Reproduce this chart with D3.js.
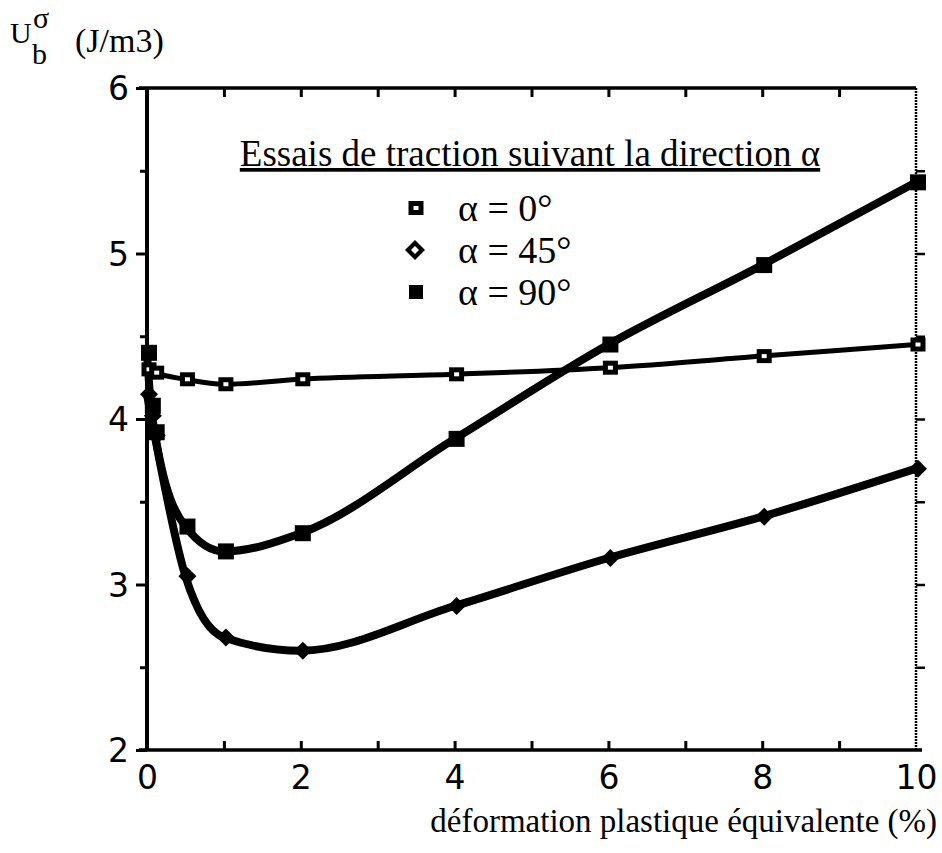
<!DOCTYPE html>
<html>
<head>
<meta charset="utf-8">
<script src="https://cdn.jsdelivr.net/npm/d3@7"></script>
<style>
  body { margin: 0; background: #fff; }
  svg { display: block; }
</style>
</head>
<body>
<div id="chart"></div>
<script>
// Data
var strain0 = [0, 0.1, 0.5, 1, 2, 4, 6, 8, 10]
var u0 = [4.30, 4.28, 4.24, 4.21, 4.24, 4.27, 4.31, 4.38, 4.45]

var strain45 = [0, 0.05, 0.1, 0.5, 1, 2, 4, 6, 8, 10]
var u45 = [4.15, 4.02, 3.90, 3.05, 2.68, 2.60, 2.87, 3.16, 3.41, 3.70]

var strain90 = [0, 0.05, 0.1, 0.5, 1, 2, 4, 6, 8, 10]
var u90 = [4.40, 4.08, 3.92, 3.35, 3.20, 3.31, 3.88, 4.45, 4.93, 5.43]

var xTicks = [0, 2, 4, 6, 8, 10]
var yTicks = [2, 3, 4, 5, 6]
var legendLabels = ['α = 0°', 'α = 45°', 'α = 90°']

// Set up margin/height/width
var margin = { top: 88, left: 147, right: 26, bottom: 103 }
var width = 942 - margin.left - margin.right
var height = 853 - margin.top - margin.bottom

var svg = d3
  .select('#chart')
  .append('svg')
  .attr('width', 942)
  .attr('height', 853)
  .append('g')
  .attr('transform', 'translate(' + margin.left + ',' + margin.top + ')')

var xPositionScale = d3.scaleLinear().domain([0, 10]).range([0, width])
var yPositionScale = d3.scaleLinear().domain([2, 6]).range([height, 0])

var sansFont = 'DejaVu Sans, Verdana, sans-serif'
var serifFont = 'Liberation Serif, Times New Roman, serif'

// Axes: left with outside ticks, bottom/top with inside ticks, right outside
var yAxis = d3.axisLeft(yPositionScale).tickValues(yTicks).tickSize(11).tickFormat(d3.format('d'))
var yMinor = d3.axisLeft(yPositionScale).tickValues([2.5, 3.5, 4.5, 5.5]).tickSize(7).tickFormat('')
var xAxis = d3.axisBottom(xPositionScale).tickValues(xTicks).tickSize(0).tickPadding(16).tickFormat(d3.format('d'))
var xInside = d3.axisTop(xPositionScale).tickValues(d3.range(1, 10)).tickSize(9).tickFormat('')
var topAxis = d3.axisBottom(xPositionScale).tickValues(d3.range(1, 10)).tickSize(9).tickFormat('')
var rightAxis = d3.axisRight(yPositionScale).tickValues([2.5, 3, 3.5, 4, 4.5, 5, 5.5]).tickSize(9).tickFormat('')

svg.append('g').attr('class', 'axis y-axis').call(yAxis)
svg.append('g').attr('class', 'axis y-minor').call(yMinor)
svg.append('g').attr('class', 'axis x-axis')
  .attr('transform', 'translate(0,' + height + ')').call(xAxis)
svg.append('g').attr('class', 'axis x-inside')
  .attr('transform', 'translate(0,' + height + ')').call(xInside)
svg.append('g').attr('class', 'axis top-axis').call(topAxis)
svg.append('g').attr('class', 'axis right-axis')
  .attr('transform', 'translate(' + width + ',0)').call(rightAxis)

svg.selectAll('.axis .domain').remove()
svg.selectAll('.axis line').attr('stroke', '#000').attr('stroke-width', 3)
svg.selectAll('.right-axis line').attr('stroke-width', 2.5)

svg.selectAll('.y-axis text')
  .attr('font-family', sansFont).attr('font-size', 33).attr('fill', '#000')
  .attr('dx', -4).attr('dy', '0.36em')
svg.selectAll('.x-axis text')
  .attr('font-family', sansFont).attr('font-size', 33).attr('fill', '#000')

// frame
svg.append('line').attr('x1', -8).attr('x2', width).attr('y1', 0).attr('y2', 0)
  .attr('stroke', '#000').attr('stroke-width', 3.5)
svg.append('line').attr('x1', -8).attr('x2', width + 6).attr('y1', height).attr('y2', height)
  .attr('stroke', '#000').attr('stroke-width', 3.5)
svg.append('line').attr('x1', 0).attr('x2', 0).attr('y1', 0).attr('y2', height)
  .attr('stroke', '#000').attr('stroke-width', 4)
svg.append('line').attr('x1', width).attr('x2', width).attr('y1', 0).attr('y2', height)
  .attr('stroke', '#000').attr('stroke-width', 2.5).attr('stroke-dasharray', '2,1')

// lines
var line = d3
  .line()
  .x(d => xPositionScale(d[0]))
  .y(d => yPositionScale(d[1]))
  .curve(d3.curveMonotoneX)

var series = [
  { key: '0', pts: d3.zip(strain0, u0), width: 5, marker: 'hollow' },
  { key: '45', pts: d3.zip(strain45, u45), width: 8, marker: 'diamond' },
  { key: '90', pts: d3.zip(strain90, u90), width: 8, marker: 'square' }
]

svg.selectAll('.u-line')
  .data(series)
  .enter()
  .append('path')
  .attr('class', 'u-line')
  .attr('d', d => line(d.pts))
  .attr('fill', 'none')
  .attr('stroke', '#000')
  .attr('stroke-width', d => d.width)
  .attr('stroke-linejoin', 'round')

function drawMarker(g, type, cx, cy) {
  if (type === 'square') {
    g.append('rect').attr('x', cx - 8).attr('y', cy - 8).attr('width', 16).attr('height', 16)
      .attr('fill', '#000')
  } else if (type === 'hollow') {
    g.append('rect').attr('x', cx - 7.5).attr('y', cy - 7).attr('width', 15).attr('height', 14)
      .attr('fill', '#000')
    g.append('rect').attr('x', cx - 2.5).attr('y', cy - 2).attr('width', 5).attr('height', 4)
      .attr('fill', '#fff')
  } else {
    g.append('path')
      .attr('d', 'M' + cx + ',' + (cy - 9) + 'L' + (cx + 9) + ',' + cy + 'L' + cx + ',' + (cy + 9) + 'L' + (cx - 9) + ',' + cy + 'Z')
      .attr('fill', '#000')
  }
}

var markerG = svg.append('g').attr('class', 'markers')
series.forEach(s => {
  s.pts.forEach(p => {
    drawMarker(markerG, s.marker, xPositionScale(p[0]) + 2, yPositionScale(p[1]))
  })
})

// Legend
svg.append('text')
  .text('Essais de traction suivant la direction α')
  .attr('x', 383)
  .attr('y', 78)
  .attr('text-anchor', 'middle')
  .attr('font-family', serifFont)
  .attr('font-size', 37)
  .attr('text-decoration', 'underline')

var legendTypes = ['hollow', 'diamond', 'square']
legendLabels.forEach((label, i) => {
  var ly = 120 + i * 42
  var mg = svg.append('g')
  if (legendTypes[i] === 'diamond') {
    mg.append('path')
      .attr('d', 'M268,' + (ly - 10) + 'L278,' + ly + 'L268,' + (ly + 10) + 'L258,' + ly + 'Z')
      .attr('fill', '#000')
    mg.append('path')
      .attr('d', 'M268,' + (ly - 4) + 'L272,' + ly + 'L268,' + (ly + 4) + 'L264,' + ly + 'Z')
      .attr('fill', '#fff')
  } else if (legendTypes[i] === 'hollow') {
    drawMarker(mg, 'hollow', 269, ly)
  } else {
    mg.append('rect').attr('x', 262).attr('y', ly - 7).attr('width', 14).attr('height', 14).attr('fill', '#000')
  }
  svg.append('text')
    .text(label)
    .attr('x', 311)
    .attr('y', ly + 13)
    .attr('font-family', serifFont)
    .attr('font-size', 38)
})

// Axis titles
var titleG = svg.append('g').attr('font-family', serifFont)
titleG.append('text').text('U').attr('x', -137).attr('y', -45).attr('font-size', 30)
titleG.append('text').text('b').attr('x', -115).attr('y', -24).attr('font-size', 30)
titleG.append('text').text('σ').attr('x', -114).attr('y', -60).attr('font-size', 30)
titleG.append('text').text('(J/m3)').attr('x', -72).attr('y', -36).attr('font-size', 34)

svg.append('text')
  .text('déformation plastique équivalente (%)')
  .attr('x', width + 21)
  .attr('y', height + 82)
  .attr('text-anchor', 'end')
  .attr('font-family', serifFont)
  .attr('font-size', 33)
</script>
</body>
</html>
